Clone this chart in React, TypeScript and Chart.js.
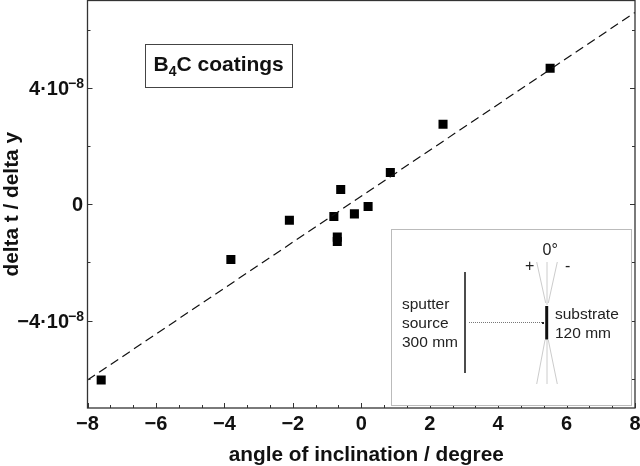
import React, { useEffect, useRef } from "react";
import { Chart, registerables } from "chart.js";

Chart.register(...registerables);

const pointX = [-7.6, -3.81, -2.1, -0.8, -0.7, -0.7, -0.6, -0.2, 0.2, 0.85, 2.39, 5.52];
const pointY = [-6.04, -1.9, -0.55, -0.42, -1.13, -1.28, 0.51, -0.33, -0.08, 1.09, 2.75, 4.67];
const fitX = [-8, 8];
const fitY = [-6.04, 6.59];
const xTicks = [-8, -6, -4, -2, 0, 2, 4, 6, 8];
const yTicks = [-4, 0, 4];
const yMinorTicks = [-6, -2, 2, 6];
const xRange = [-8, 8];
const yRange = [-7, 7];
const FONT = "'Liberation Sans', Arial, sans-serif";

const labelX = (v: number) => (v < 0 ? "\u2212" + Math.abs(v) : String(v));

function segs(ctx: any, list: number[][]) {
  ctx.beginPath();
  for (const s of list) {
    ctx.moveTo(s[0], s[1]);
    ctx.lineTo(s[2], s[3]);
  }
  ctx.stroke();
}

const decor = {
  id: "decor",
  beforeDraw(chart: any) {
    const sx = chart.scales.x;
    if (!sx._shifted) {
      const orig = sx.drawTitle;
      sx.drawTitle = function () {
        this.ctx.save();
        this.ctx.translate(5, 1.5);
        orig.call(this);
        this.ctx.restore();
      };
      sx._shifted = true;
    }
  },
  afterDraw(chart: any) {
    const { ctx, chartArea: a, scales } = chart;
    const { x, y } = scales;
    ctx.save();
    ctx.strokeStyle = "#333";
    ctx.lineWidth = 1;
    const sub = 3;
    for (const t of xTicks) {
      for (let k = 0; k < sub; k++) {
        const v = t + (k * 2) / sub;
        if (v > xRange[1]) continue;
        const px = Math.round(x.getPixelForValue(v)) + 0.5;
        const len = k === 0 ? 5 : 3;
        ctx.beginPath();
        ctx.moveTo(px, a.bottom);
        ctx.lineTo(px, a.bottom - len);
        ctx.stroke();
      }
    }
    for (const [list, len] of [[yTicks, 5], [yMinorTicks, 3]] as [number[], number][]) {
      for (const v of list) {
        const py = Math.round(y.getPixelForValue(v)) + 0.5;
        ctx.beginPath();
        ctx.moveTo(a.left, py);
        ctx.lineTo(a.left + len, py);
        ctx.moveTo(a.right, py);
        ctx.lineTo(a.right - len, py);
        ctx.stroke();
      }
    }
    ctx.lineWidth = 1.3;
    ctx.strokeRect(a.left, a.top, a.right - a.left, a.bottom - a.top);

    // y tick labels with a raised exponent
    ctx.fillStyle = "#111";
    ctx.textBaseline = "alphabetic";
    ctx.textAlign = "right";
    for (const v of yTicks) {
      const py = y.getPixelForValue(v);
      if (v === 0) {
        ctx.font = `bold 20px ${FONT}`;
        ctx.fillText("0", 83, py + 7);
      } else {
        ctx.font = `bold 14px ${FONT}`;
        ctx.fillText("\u22128", 84, py);
        const w = ctx.measureText("\u22128").width;
        ctx.font = `bold 20px ${FONT}`;
        ctx.fillText((v < 0 ? "\u2212" : "") + Math.abs(v) + "\u00b710", 84 - w + 1, py + 7.5);
      }
    }

    // title box
    ctx.textAlign = "left";
    ctx.fillStyle = "#fff";
    ctx.strokeStyle = "#444";
    ctx.lineWidth = 1;
    ctx.fillRect(145.5, 44.5, 147, 43);
    ctx.strokeRect(145.5, 44.5, 147, 43);
    ctx.fillStyle = "#111";
    ctx.font = `bold 21px ${FONT}`;
    ctx.fillText("B", 153.5, 71);
    const bw = ctx.measureText("B").width;
    ctx.font = `bold 14px ${FONT}`;
    ctx.fillText("4", 153.5 + bw, 76);
    const fw = ctx.measureText("4").width;
    ctx.font = `bold 21px ${FONT}`;
    ctx.fillText("C coatings", 153.5 + bw + fw, 71);

    // inset
    ctx.fillStyle = "#fff";
    ctx.strokeStyle = "#bbb";
    ctx.lineWidth = 1;
    ctx.fillRect(391.5, 229.5, 240, 176);
    ctx.strokeRect(391.5, 229.5, 240, 176);
    ctx.strokeStyle = "#ccc";
    segs(ctx, [
      [547, 262, 547, 305],
      [547, 340, 547, 384],
      [536.7, 262, 545.7, 303],
      [557.3, 262, 548.3, 303],
      [536.7, 384, 545, 340],
      [557.3, 384, 548.3, 340],
    ]);
    ctx.strokeStyle = "#111";
    ctx.lineWidth = 1.5;
    segs(ctx, [[465, 272, 465, 373]]);
    ctx.lineWidth = 3;
    segs(ctx, [[546.7, 306, 546.7, 339.5]]);
    ctx.strokeStyle = "#777";
    ctx.lineWidth = 1;
    ctx.setLineDash([1, 1]);
    segs(ctx, [[469, 322.5, 543, 322.5]]);
    ctx.setLineDash([]);
    ctx.fillStyle = "#222";
    ctx.fillRect(542, 322, 2, 2);
    ctx.font = `15.5px ${FONT}`;
    ctx.fillText("sputter", 402, 309);
    ctx.fillText("source", 402, 328);
    ctx.fillText("300 mm", 402, 347);
    ctx.fillText("substrate", 555, 319);
    ctx.fillText("120 mm", 555, 338);
    ctx.font = `16px ${FONT}`;
    ctx.fillText("0\u00b0", 542.5, 255);
    ctx.fillText("+", 525, 271);
    ctx.fillText("-", 565, 271);
    ctx.restore();
  },
};

export default function App() {
  const ref = useRef<HTMLCanvasElement>(null);
  useEffect(() => {
    document.body.style.margin = "0";
    const chart = new Chart(ref.current!, {
      type: "scatter",
      data: {
        datasets: [
          {
            label: "fit",
            type: "line",
            data: fitX.map((v, i) => ({ x: v, y: fitY[i] })),
            borderColor: "#111",
            borderWidth: 1.2,
            borderDash: [9, 5],
            pointRadius: 0,
            fill: false,
          },
          {
            label: "B4C coatings",
            data: pointX.map((v, i) => ({ x: v, y: pointY[i] })),
            pointStyle: "rect",
            pointRadius: 6.4,
            backgroundColor: "#000",
            borderColor: "#000",
            borderWidth: 0,
          },
        ],
      },
      options: {
        animation: false,
        responsive: false,
        layout: { autoPadding: false, padding: { top: 0.5, right: 5, left: 0, bottom: 0 } },
        plugins: { legend: { display: false }, tooltip: { enabled: false } },
        scales: {
          x: {
            type: "linear",
            min: xRange[0],
            max: xRange[1],
            afterBuildTicks: (s: any) => { s.ticks = xTicks.map((value) => ({ value })); },
            afterFit: (s: any) => { s.height = 58; s.paddingLeft = 0; s.paddingRight = 0; },
            grid: { display: false, drawTicks: false },
            border: { display: false },
            ticks: {
              autoSkip: false, maxRotation: 0, padding: 4,
              color: "#111",
              font: { family: FONT, size: 20, weight: "bold" },
              callback: (v: any) => labelX(Number(v)),
            },
            title: {
              display: true, text: "angle of inclination / degree",
              color: "#111", padding: { top: 4, bottom: 0 },
              font: { family: FONT, size: 20.8, weight: "bold" },
            },
          },
          y: {
            type: "linear",
            min: yRange[0],
            max: yRange[1],
            afterBuildTicks: (s: any) => { s.ticks = yTicks.map((value) => ({ value })); },
            afterFit: (s: any) => { s.width = 87.5; s.paddingTop = 0; s.paddingBottom = 0; },
            grid: { display: false, drawTicks: false },
            border: { display: false },
            ticks: { display: false },
            title: {
              display: true, text: "delta t / delta y",
              color: "#111", padding: { top: 0, bottom: 0 },
              font: { family: FONT, size: 20.8, weight: "bold" },
            },
          },
        },
      },
      plugins: [decor],
    } as any);
    return () => chart.destroy();
  }, []);
  return <canvas ref={ref} width={640} height={466} style={{ display: "block" }} />;
}
